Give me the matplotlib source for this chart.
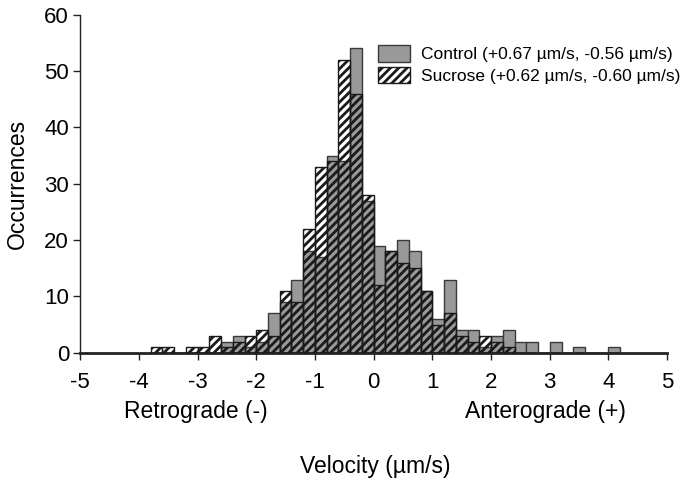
import numpy as np
import matplotlib.pyplot as plt

plt.rcParams["font.family"] = ["Liberation Sans", "DejaVu Sans"]
plt.rcParams["hatch.linewidth"] = 2.0

# histogram bins (left edges, width 0.2 um/s)
bin_left = np.round(np.arange(-3.8, 4.2, 0.2), 1)
control = [0, 0, 0, 0, 0, 0, 2, 3, 1, 2, 7, 9, 13, 18, 17, 35, 34, 54, 27,
           19, 18, 20, 18, 11, 6, 13, 4, 4, 1, 3, 4, 2, 2, 0, 2, 0, 1, 0, 0, 1]
sucrose = [1, 1, 0, 1, 1, 3, 1, 2, 3, 4, 3, 11, 9, 22, 33, 34, 52, 46, 28,
           12, 18, 16, 15, 11, 5, 7, 3, 2, 3, 2, 1, 0, 0, 0, 0, 0, 0, 0, 0, 0]

labels = ["Control (+0.67 µm/s, -0.56 µm/s)", "Sucrose (+0.62 µm/s, -0.60 µm/s)"]

fig = plt.figure(figsize=(6.85, 4.86), dpi=100)
ax = fig.add_axes([0.117, 0.274, 0.857, 0.696])

ax.bar(bin_left, control, width=0.2, align="edge", color="#999999",
       edgecolor="#3a3a3a", linewidth=1.0, label=labels[0], zorder=2)
ax.bar(bin_left, sucrose, width=0.2, align="edge", facecolor="none",
       edgecolor="#1a1a1a", hatch="////", linewidth=1.0, label=labels[1], zorder=3)

ax.set_xlim(-5, 5)
ax.set_ylim(0, 60)
ax.set_xticks(range(-5, 6))
ax.set_xticklabels([str(i) for i in range(-5, 6)])
ax.set_yticks(range(0, 61, 10))
ax.tick_params(labelsize=16, direction="out", length=5, width=1, color="#222222")
ax.tick_params(axis="x", pad=9)
ax.tick_params(axis="y", pad=3)
ax.spines["top"].set_visible(False)
ax.spines["right"].set_visible(False)
ax.spines["left"].set_linewidth(1.0)
ax.spines["bottom"].set_linewidth(2.0)
ax.spines["left"].set_color("#222222")
ax.spines["bottom"].set_color("#222222")
ax.set_ylabel("Occurrences", fontsize=16.5, labelpad=11)

ax.legend(loc="upper left", bbox_to_anchor=(0.508, 0.91), frameon=False, fontsize=12.5,
          handlelength=1.85, handleheight=1.1, handletextpad=0.58, labelspacing=0.25,
          borderaxespad=0, borderpad=0)

fig.text(195.6 / 685, 1 - 411 / 486, "Retrograde (-)", ha="center", va="center", fontsize=16.5)
fig.text(545.5 / 685, 1 - 411 / 486, "Anterograde (+)", ha="center", va="center", fontsize=16.5)
fig.text(375 / 685, 1 - 466 / 486, "Velocity (µm/s)", ha="center", va="center", fontsize=16.5)

fig.savefig("out.png", dpi=100)
